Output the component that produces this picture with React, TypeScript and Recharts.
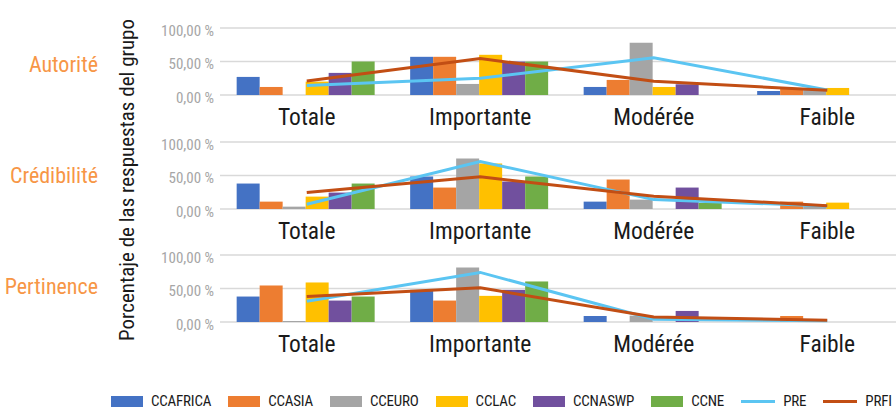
import React from 'react';
import { ComposedChart, Bar, Line, XAxis, YAxis, CartesianGrid } from 'recharts';

const categories = ['Totale', 'Importante', 'Modérée', 'Faible'];
const barSeries = ['CCAFRICA', 'CCASIA', 'CCEURO', 'CCLAC', 'CCNASWP', 'CCNE'];
const lineSeries = ['PRE', 'PRFI'];
const panelTitles = ['Autorité', 'Crédibilité', 'Pertinence'];
const yTicks = [0, 50, 100];
const yAxisTitle = 'Porcentaje de las respuestas del grupo';

// Autorité
const autCCAFRICA = [27, 57, 12, 6];
const autCCASIA = [12, 57, 22.5, 10];
const autCCEURO = [0, 16.5, 78, 7.5];
const autCCLAC = [20, 60, 12, 10.5];
const autCCNASWP = [33, 50, 16, 0];
const autCCNE = [50, 50, 0, 0];
const autPRE = [14, 25, 55.5, 7.5];
const autPRFI = [21, 54.5, 20.5, 7];

// Crédibilité
const creCCAFRICA = [38, 48.5, 11, 0];
const creCCASIA = [11, 32, 44, 11];
const creCCEURO = [3.5, 75.5, 14, 7];
const creCCLAC = [18.5, 68, 0, 9.5];
const creCCNASWP = [24.5, 41, 32, 0];
const creCCNE = [38, 48.5, 9, 0];
const crePRE = [7, 71, 14, 4.5];
const crePRFI = [24.5, 48, 19, 5];

// Pertinence
const perCCAFRICA = [38, 48, 9, 0];
const perCCASIA = [54.5, 32, 0, 9];
const perCCEURO = [1.5, 81.5, 9.5, 0];
const perCCLAC = [59, 39, 0, 0];
const perCCNASWP = [32, 48, 16.5, 0];
const perCCNE = [38, 60.5, 0, 0];
const perPRE = [31, 74, 4, 2];
const perPRFI = [38, 51, 7.5, 2.5];

const panels = [
  [autCCAFRICA, autCCASIA, autCCEURO, autCCLAC, autCCNASWP, autCCNE, autPRE, autPRFI],
  [creCCAFRICA, creCCASIA, creCCEURO, creCCLAC, creCCNASWP, creCCNE, crePRE, crePRFI],
  [perCCAFRICA, perCCASIA, perCCEURO, perCCLAC, perCCNASWP, perCCNE, perPRE, perPRFI],
];

const barColors = ['#4472c4', '#ed7d31', '#a5a5a5', '#ffc000', '#71509e', '#70ad47'];
const lineColors = ['#5bc5f2', '#c24e14'];
const FONT = 'Roboto, "Open Sans", sans-serif';

const buildRows = (arrs: number[][]) =>
  categories.map((name, i) => {
    const row: Record<string, any> = { name };
    [...barSeries, ...lineSeries].forEach((s, k) => {
      row[s] = arrs[k][i];
    });
    return row;
  });

const fmt = (v: number) => v.toFixed(2).replace('.', ',') + ' %';

const PANEL_H = 113.6;

function Panel({ arrs }: { arrs: number[][] }) {
  const data = buildRows(arrs);
  return (
    <ComposedChart
      width={920}
      height={134}
      data={data}
      margin={{ top: 28, right: 6, bottom: 20, left: 0 }}
      barCategoryGap="9.6%"
      barGap={0}
    >
      <CartesianGrid vertical={false} stroke="#d9d9d9" strokeWidth={1.5} />
      <XAxis
        dataKey="name"
        height={19}
        axisLine={false}
        tickLine={false}
        tickMargin={7}
        interval={0}
        tick={{ fontSize: 23.5, fill: '#1a1a1a' }}
      />
      <YAxis
        width={220}
        domain={[0, 100]}
        ticks={yTicks}
        axisLine={false}
        tickLine={false}
        tickMargin={0}
        tickFormatter={fmt}
        tick={{ fontSize: 15, fill: '#a6a6a6', dy: 2.5, style: { fontStretch: 'semi-condensed' } }}
      />
      {barSeries.map((s, k) => (
        <Bar key={s} dataKey={s} fill={barColors[k]} isAnimationActive={false} />
      ))}
      {lineSeries.map((s, k) => (
        <Line
          key={s}
          type="linear"
          dataKey={s}
          stroke={lineColors[k]}
          strokeWidth={3}
          dot={false}
          activeDot={false}
          isAnimationActive={false}
        />
      ))}
    </ComposedChart>
  );
}

const legendItems = [
  ...barSeries.map((s, k) => ({ name: s, color: barColors[k], kind: 'bar' })),
  ...lineSeries.map((s, k) => ({ name: s, color: lineColors[k], kind: 'line' })),
];

export default function App() {
  return (
    <div
      style={{
        position: 'fixed',
        left: 0,
        top: 0,
        width: 896,
        height: 410,
        overflow: 'hidden',
        background: '#fff',
        fontFamily: FONT,
        fontStretch: 'condensed',
      }}
    >
      {panels.map((arrs, p) => (
        <div key={p} style={{ position: 'absolute', left: 0, top: p * PANEL_H }}>
          <Panel arrs={arrs} />
        </div>
      ))}
      {panelTitles.map((t, p) => (
        <div
          key={t}
          style={{
            position: 'absolute',
            right: 896 - 98,
            top: 51 + p * 111,
            fontSize: 22,
            color: '#f79646',
            whiteSpace: 'nowrap',
            lineHeight: '28px',
          }}
        >
          {t}
        </div>
      ))}
      <svg style={{ position: 'absolute', left: 0, top: 0 }} width={200} height={410}>
        <text
          x={0}
          y={0}
          transform="translate(134,180) rotate(-90)"
          textAnchor="middle"
          fontSize={21}
          fill="#1a1a1a"
        >
          {yAxisTitle}
        </text>
      </svg>
      <div
        style={{
          position: 'absolute',
          left: 111,
          top: 394,
          display: 'flex',
          alignItems: 'center',
          gap: 17,
          whiteSpace: 'nowrap',
          fontSize: 15,
          letterSpacing: -0.2,
          color: '#1a1a1a',
          lineHeight: '15px',
        }}
      >
        {legendItems.map((it) => (
          <div key={it.name} style={{ display: 'flex', alignItems: 'center', gap: 8 }}>
            {it.kind === 'bar' ? (
              <div style={{ width: 32, height: 11.5, background: it.color }} />
            ) : (
              <div style={{ width: 34, height: 3, background: it.color }} />
            )}
            <span>{it.name}</span>
          </div>
        ))}
      </div>
    </div>
  );
}
